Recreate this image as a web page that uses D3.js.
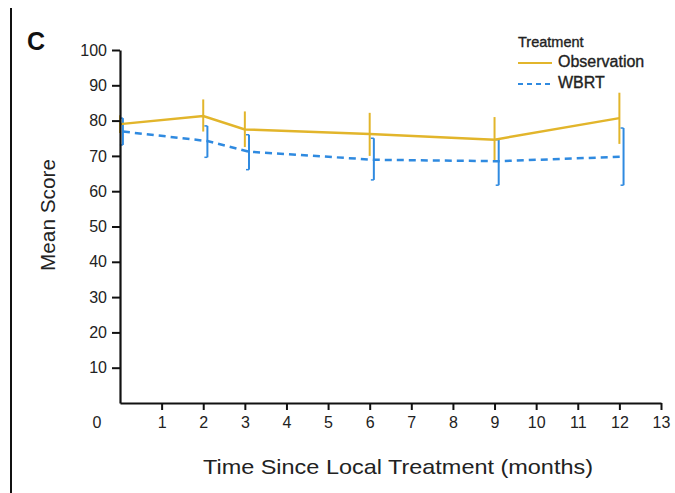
<!DOCTYPE html>
<html>
<head>
<meta charset="utf-8">
<script src="https://cdn.jsdelivr.net/npm/d3@7"></script>
<style>
  body { margin: 0; background: #fff; }
  svg { display: block; font-family: "Liberation Sans", Arial, sans-serif; }
</style>
</head>
<body>
<div id="chart"></div>
<script>
/*
*    Mean score vs time since local treatment
*/

// Data
const months = [0, 2, 3, 6, 9, 12];

const obsMean = [79.0, 81.3, 77.5, 76.2, 74.6, 80.7];
const obsLow  = [76.5, 76.9, 72.5, 70.0, 68.7, 73.4];
const obsHigh = [81.5, 86.0, 82.6, 82.2, 81.0, 87.9];

const wbrtMean = [76.9, 74.2, 71.2, 68.9, 68.5, 69.8];
const wbrtLow  = [73.1, 69.6, 66.1, 63.2, 61.7, 61.7];
const wbrtHigh = [80.7, 78.5, 76.0, 75.0, 74.6, 77.9];

const xTicks = [1, 2, 3, 4, 5, 6, 7, 8, 9, 10, 11, 12, 13];
const yTicks = [10, 20, 30, 40, 50, 60, 70, 80, 90, 100];

const seriesNames = ["Observation", "WBRT"];

drawChart("#chart");

function drawChart(container) {

	const width = 675;
	const height = 493;

	const margin = { left: 120, right: 14, top: 50, bottom: 90 };

	const innerWidth = width - margin.left - margin.right;
	const innerHeight = height - margin.top - margin.bottom;

	const gold = "#e2b52b";
	const blue = "#2f8ae0";
	const dodge = 0.1;

	const svg = d3.select(container)
		.append("svg")
		.attr("width", width)
		.attr("height", height);

	// panel frame line on the left
	svg.append("line")
		.attr("x1", 11).attr("x2", 11)
		.attr("y1", 8).attr("y2", height)
		.attr("stroke", "#111")
		.attr("stroke-width", 2);

	svg.append("text")
		.attr("x", 27)
		.attr("y", 50)
		.attr("font-size", 25)
		.attr("font-weight", "bold")
		.attr("fill", "#111")
		.text("C");

	const g = svg.append("g")
		.attr("transform", `translate(${margin.left}, ${margin.top})`);

	// Scales
	const x = d3.scaleLinear()
		.domain([0, 13])
		.range([0, innerWidth]);

	const y = d3.scaleLinear()
		.domain([0, 100])
		.range([innerHeight, 0]);

	const obs = months.map((m, i) => ({ m: m, v: obsMean[i], lo: obsLow[i], hi: obsHigh[i] }));
	const wbrt = months.map((m, i) => ({ m: m + dodge, v: wbrtMean[i], lo: wbrtLow[i], hi: wbrtHigh[i] }));
	wbrt[0].m = months[0] + dodge * 0.7;

	const line = d3.line()
		.x(d => x(d.m))
		.y(d => y(d.v));

	// error bars
	g.append("g")
		.selectAll("line")
		.data(obs)
		.enter()
		.append("line")
		.attr("x1", d => x(d.m)).attr("x2", d => x(d.m))
		.attr("y1", d => y(d.lo)).attr("y2", d => y(d.hi))
		.attr("stroke", gold)
		.attr("stroke-width", 2);

	const wbrtBars = g.append("g")
		.selectAll("g")
		.data(wbrt)
		.enter()
		.append("g")
		.attr("stroke", blue)
		.attr("stroke-width", 2);

	wbrtBars.append("line")
		.attr("x1", d => x(d.m)).attr("x2", d => x(d.m))
		.attr("y1", d => y(d.lo)).attr("y2", d => y(d.hi));

	wbrtBars.append("line")
		.attr("x1", d => x(d.m) - 3).attr("x2", d => x(d.m))
		.attr("y1", d => y(d.hi)).attr("y2", d => y(d.hi))
		.attr("stroke-width", 1.5);

	wbrtBars.append("line")
		.attr("x1", d => x(d.m) - 3).attr("x2", d => x(d.m))
		.attr("y1", d => y(d.lo)).attr("y2", d => y(d.lo))
		.attr("stroke-width", 1.5);

	// lines
	g.append("path")
		.datum(obs)
		.attr("fill", "none")
		.attr("stroke", gold)
		.attr("stroke-width", 2.5)
		.attr("d", line);

	g.append("path")
		.datum(wbrt)
		.attr("fill", "none")
		.attr("stroke", blue)
		.attr("stroke-width", 2.5)
		.attr("stroke-dasharray", "7,5")
		.attr("d", line);

	// Axis X
	const xAxis = g.append("g")
		.attr("transform", `translate(0, ${innerHeight})`)
		.call(d3.axisBottom(x).tickValues(xTicks).tickSize(7).tickPadding(7).tickSizeOuter(0));

	// Axis Y
	const yAxis = g.append("g")
		.call(d3.axisLeft(y).tickValues(yTicks).tickSize(8).tickPadding(5).tickSizeOuter(0));

	[xAxis, yAxis].forEach(a => {
		a.select(".domain").attr("stroke", "#111").attr("stroke-width", 2.2);
		a.selectAll(".tick line").attr("stroke", "#111").attr("stroke-width", 2);
		a.selectAll(".tick text")
			.attr("font-size", 16)
			.attr("font-family", "\"Liberation Sans\", Arial, sans-serif")
			.attr("fill", "#222");
	});

	// corner zero label
	g.append("text")
		.attr("x", -23)
		.attr("y", innerHeight + 25)
		.attr("text-anchor", "middle")
		.attr("font-size", 16)
		.attr("fill", "#222")
		.text("0");

	// Labels
	g.append("text")
		.attr("x", 278)
		.attr("y", innerHeight + 71)
		.attr("text-anchor", "middle")
		.attr("font-size", 21)
		.attr("font-family", "\"Liberation Sans Narrow\", \"Arial Narrow\", sans-serif")
		.attr("textLength", 390)
		.attr("lengthAdjust", "spacingAndGlyphs")
		.attr("fill", "#222")
		.text("Time Since Local Treatment (months)");

	g.append("text")
		.attr("transform", "rotate(-90)")
		.attr("x", -165)
		.attr("y", -65)
		.attr("text-anchor", "middle")
		.attr("font-size", 20)
		.attr("font-family", "\"Liberation Sans Narrow\", \"Arial Narrow\", sans-serif")
		.attr("textLength", 112)
		.attr("lengthAdjust", "spacingAndGlyphs")
		.attr("fill", "#222")
		.text("Mean Score");

	// Legend
	const legend = svg.append("g")
		.attr("transform", "translate(518, 47)");

	legend.append("text")
		.attr("x", 0)
		.attr("y", 0)
		.attr("font-size", 14.5)
		.attr("fill", "#222")
		.attr("stroke", "#222")
		.attr("stroke-width", 0.35)
		.text("Treatment");

	const colors = [gold, blue];
	seriesNames.forEach((name, i) => {
		const row = legend.append("g")
			.attr("transform", `translate(0, ${20 + i * 21})`);
		row.append("line")
			.attr("x1", 0).attr("x2", 34)
			.attr("y1", -4).attr("y2", -4)
			.attr("stroke", colors[i])
			.attr("stroke-width", 2)
			.attr("stroke-dasharray", i === 1 ? "5,4" : null);
		row.append("text")
			.attr("x", 40)
			.attr("y", 0)
			.attr("font-size", 16)
			.attr("fill", "#222")
			.attr("stroke", "#222")
			.attr("stroke-width", 0.35)
			.text(name);
	});
}
</script>
</body>
</html>
